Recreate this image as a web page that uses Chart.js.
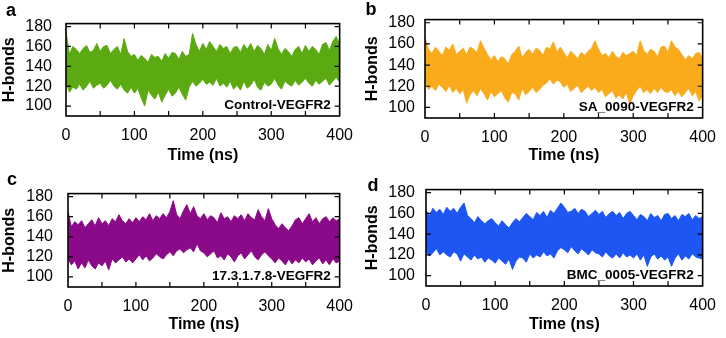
<!DOCTYPE html>
<html>
<head>
<meta charset="utf-8">
<script src="https://cdn.jsdelivr.net/npm/chart.js@4.4.1/dist/chart.umd.min.js"></script>
<style>
  body { margin: 0; background: #fff; width: 726px; height: 338px; position: relative; overflow: hidden; }
  .panel { position: absolute; width: 363px; height: 169px; }
</style>
</head>
<body>
<div class="panel" style="left:0;top:0"><canvas id="chartA" width="363" height="169"></canvas></div>
<div class="panel" style="left:363px;top:0"><canvas id="chartB" width="363" height="169"></canvas></div>
<div class="panel" style="left:0;top:169px"><canvas id="chartC" width="363" height="169"></canvas></div>
<div class="panel" style="left:363px;top:169px"><canvas id="chartD" width="363" height="169"></canvas></div>
<script>
// time axis (ns), one sample every 5 ns
const times = [
  0, 5, 10, 15, 20, 25, 30, 35, 40, 45,
  50, 55, 60, 65, 70, 75, 80, 85, 90, 95,
  100, 105, 110, 115, 120, 125, 130, 135, 140, 145,
  150, 155, 160, 165, 170, 175, 180, 185, 190, 195,
  200, 205, 210, 215, 220, 225, 230, 235, 240, 245,
  250, 255, 260, 265, 270, 275, 280, 285, 290, 295,
  300, 305, 310, 315, 320, 325, 330, 335, 340, 345,
  350, 355, 360, 365, 370, 375, 380, 385, 390, 395,
  400
];

const xTicks = [0, 100, 200, 300, 400];
const xMinorTicks = [50, 100, 150, 200, 250, 300, 350];
const yTicks = [100, 120, 140, 160, 180];

// upper / lower edge of the H-bond trace (spike tips and dips)
const controlHi = [
  175, 152, 160, 157, 153, 158, 161, 154, 156, 163,
  155, 160, 161, 153, 157, 160, 152, 168, 155, 150,
  152, 146, 151, 148, 144, 152, 149, 150, 145, 153,
  148, 154, 153, 147, 155, 150, 152, 173, 162, 155,
  163, 157, 165, 160, 155, 162, 158, 160, 153, 159,
  160, 154, 162, 157, 163, 155, 161, 158, 152, 162,
  156, 168, 158, 152, 158, 155, 150, 157, 160, 153,
  161, 155, 160, 157, 152, 162, 164, 156, 165, 170,
  162
];
const controlLo = [
  124, 114, 119, 117, 122, 116, 120, 125, 118, 121,
  123, 118, 121, 126, 120, 117, 122, 116, 113, 119,
  113, 118, 108, 100, 116, 111, 107, 114, 104, 111,
  117, 110, 113, 119, 112, 106, 119, 125, 120, 123,
  127, 122, 124, 121, 128, 120, 123, 119, 125, 117,
  121, 116, 125, 118, 121, 127, 119, 116, 124, 120,
  122, 128, 121, 117, 125, 122, 120, 126, 121, 124,
  128, 123, 120, 126, 122, 125, 128, 121, 125, 129,
  124
];

const saHi = [
  166, 155, 151, 157, 153, 149, 157, 154, 160, 150,
  153, 156, 150, 157, 155, 152, 163, 156, 150, 145,
  149, 143, 148, 146, 141, 150, 153, 158, 147, 152,
  155, 150, 156, 154, 149, 157, 155, 162, 152, 157,
  152, 147, 153, 150, 146, 152, 149, 153, 156, 163,
  155, 149, 151, 147, 153, 148, 146, 152, 149, 151,
  153, 149, 163, 154, 150, 155, 153, 148, 157, 158,
  152, 163, 157, 155, 150, 145, 149, 146, 151, 152,
  147
];
const saLo = [
  125, 117, 120, 116, 122, 119, 115, 121, 114, 118,
  113, 117, 104, 112, 116, 111, 118, 113, 107, 115,
  110, 113, 116, 109, 105, 114, 113, 107, 118, 112,
  115, 119, 114, 117, 121, 123, 127, 122, 126, 124,
  119, 122, 115, 118, 121, 114, 117, 120, 116, 119,
  114, 117, 110, 113, 116, 109, 112, 108, 114, 103,
  111, 116, 120, 114, 117, 113, 118, 114, 119, 115,
  114, 117, 111, 115, 110, 114, 118, 111, 115, 106,
  112
];

const ligHi = [
  165, 150, 155, 152, 156, 149, 153, 157, 151, 159,
  153, 156, 151, 158, 155, 162, 156, 153, 158, 154,
  159, 155, 160, 157, 163, 156, 161, 158, 163, 159,
  165, 176, 162, 158, 166, 172, 163, 170, 161, 158,
  163, 157, 161, 159, 154, 164, 158, 160, 155, 161,
  158, 162, 156, 163, 159, 157, 167, 160, 156, 168,
  158, 152, 148, 153, 149, 146, 151, 157, 159, 153,
  158, 163, 155, 159, 153, 158, 160, 155, 159, 156,
  158
];
const ligLo = [
  118, 112, 116, 108, 114, 109, 117, 111, 108, 114,
  111, 116, 107, 118, 114, 117, 120, 115, 118, 114,
  118, 122, 117, 121, 116, 119, 123, 120, 118, 122,
  125, 121, 126, 128, 124, 127, 129, 125, 133, 126,
  124, 120, 123, 126, 119, 121, 117, 123, 120, 115,
  121, 124, 118, 122, 126, 120, 117, 122, 125, 121,
  118, 114, 119, 116, 112, 118, 113, 117, 114, 119,
  115, 118, 112, 116, 119, 113, 117, 112, 118, 114,
  116
];

const bmcHi = [
  163, 158, 165, 161, 164, 159, 166, 162, 165, 160,
  166, 170, 158, 155, 151, 157, 153, 150, 153, 155,
  151, 148, 153, 149, 146, 151, 155, 152, 156, 160,
  157, 154, 161, 158, 162, 156, 163, 160, 165, 170,
  166, 161, 162, 165, 160, 164, 162, 157, 160, 163,
  159, 162, 156, 160, 162, 158, 161, 155, 160, 162,
  158, 154, 159, 157, 153, 160, 156, 158, 153, 159,
  160, 155, 158, 153, 159, 157, 160, 154, 158, 155,
  157
];
const bmcLo = [
  124, 119, 122, 126, 120, 123, 120, 118, 123, 121,
  114, 121, 118, 115, 120, 116, 118, 113, 117, 115,
  112, 117, 114, 111, 116, 106, 114, 118, 117, 113,
  121, 117, 120, 118, 123, 119, 121, 117, 124, 127,
  125, 122, 128, 124, 121, 126, 123, 120, 125, 122,
  121, 118, 123, 119, 117, 121, 117, 122, 118, 120,
  117, 121, 115, 120, 109, 118, 121, 116, 119, 115,
  118, 109, 117, 121, 115, 119, 116, 121, 118, 117,
  116
];

const FONT = "'Liberation Sans', Arial, sans-serif";

// frame, inward ticks, panel letter and complex name
const frameTicks = {
  id: 'frameTicks',
  afterDatasetsDraw(chart, args, opts) {
    const { ctx, chartArea: a } = chart;
    const x = chart.scales.x, y = chart.scales.y;
    ctx.save();
    ctx.strokeStyle = '#000';
    ctx.lineWidth = 1.2;
    ctx.beginPath();
    for (const t of xMinorTicks) {
      const px = x.getPixelForValue(t);
      ctx.moveTo(px, a.bottom); ctx.lineTo(px, a.bottom - 5);
      ctx.moveTo(px, a.top); ctx.lineTo(px, a.top + 5);
    }
    for (const v of yTicks) {
      const py = y.getPixelForValue(v);
      ctx.moveTo(a.left, py); ctx.lineTo(a.left + 5, py);
      ctx.moveTo(a.right, py); ctx.lineTo(a.right - 5, py);
    }
    ctx.stroke();
    ctx.lineWidth = 1.6;
    ctx.strokeRect(a.left, a.top, a.right - a.left, a.bottom - a.top);

    ctx.fillStyle = '#000';
    ctx.font = 'bold 13.5px ' + FONT;
    ctx.textAlign = 'right';
    ctx.textBaseline = 'middle';
    ctx.fillText(opts.name, a.right - 9, a.bottom - 11);

    ctx.font = 'bold 18px ' + FONT;
    ctx.textAlign = 'center';
    ctx.fillText(opts.letter, opts.lx, opts.ly);
    ctx.restore();
  }
};

function makePanel(id, hi, lo, color, p) {
  const hiPts = [], loPts = [];
  for (let i = 0; i < times.length; i++) {
    hiPts.push({ x: times[i], y: hi[i] });
    loPts.push({ x: times[i], y: lo[i] });
  }
  return new Chart(document.getElementById(id), {
    type: 'line',
    data: {
      datasets: [
        { data: hiPts, borderColor: color, backgroundColor: color, borderWidth: 1, pointRadius: 0, tension: 0, fill: '+1' },
        { data: loPts, borderColor: color, backgroundColor: color, borderWidth: 1, pointRadius: 0, tension: 0, fill: false }
      ]
    },
    options: {
      responsive: false,
      animation: false,
      layout: { padding: { top: p.top, right: p.right, left: 0, bottom: 0 } },
      plugins: {
        legend: { display: false },
        tooltip: { enabled: false },
        frameTicks: { name: p.name, letter: p.letter, lx: p.lx, ly: p.ly }
      },
      scales: {
        x: {
          type: 'linear', min: 0, max: 400,
          afterBuildTicks: s => { s.ticks = xTicks.map(v => ({ value: v })); },
          afterFit: s => { s.height = p.xH; },
          grid: { display: false, drawTicks: false },
          border: { display: false },
          ticks: { padding: 10, color: '#000', font: { family: FONT, size: 16 }, maxRotation: 0, autoSkip: false },
          title: { display: true, text: 'Time (ns)', color: '#000', font: { family: FONT, size: 16, weight: 'bold' }, padding: { top: 0, bottom: 4 } }
        },
        y: {
          type: 'linear', min: 90, max: 183,
          afterBuildTicks: s => { s.ticks = yTicks.map(v => ({ value: v })); },
          afterFit: s => { s.width = p.yW; },
          grid: { display: false, drawTicks: false },
          border: { display: false },
          ticks: { padding: p.yPad, color: '#000', font: { family: FONT, size: 16 } },
          title: { display: true, text: 'H-bonds', color: '#000', font: { family: FONT, size: 16, weight: 'bold' }, padding: { top: 0, bottom: 0 } }
        }
      }
    },
    plugins: [frameTicks]
  });
}

makePanel('chartA', controlHi, controlLo, '#5BAA12',
  { top: 9.5, right: 14, xH: 53, yW: 66, yPad: 14, name: 'Control-VEGFR2', letter: 'a', lx: 11, ly: 11 });
makePanel('chartB', saHi, saLo, '#F9AB1C',
  { top: 9.5, right: 18, xH: 51, yW: 62, yPad: 10, name: 'SA_0090-VEGFR2', letter: 'b', lx: 8, ly: 10 });
makePanel('chartC', ligHi, ligLo, '#8A0A8A',
  { top: 9.5, right: 16, xH: 51, yW: 68, yPad: 15, name: '17.3.1.7.8-VEGFR2', letter: 'c', lx: 12, ly: 11 });
makePanel('chartD', bmcHi, bmcLo, '#1D56F2',
  { top: 9, right: 18, xH: 52, yW: 63, yPad: 11, name: 'BMC_0005-VEGFR2', letter: 'd', lx: 10, ly: 17 });
</script>
</body>
</html>
